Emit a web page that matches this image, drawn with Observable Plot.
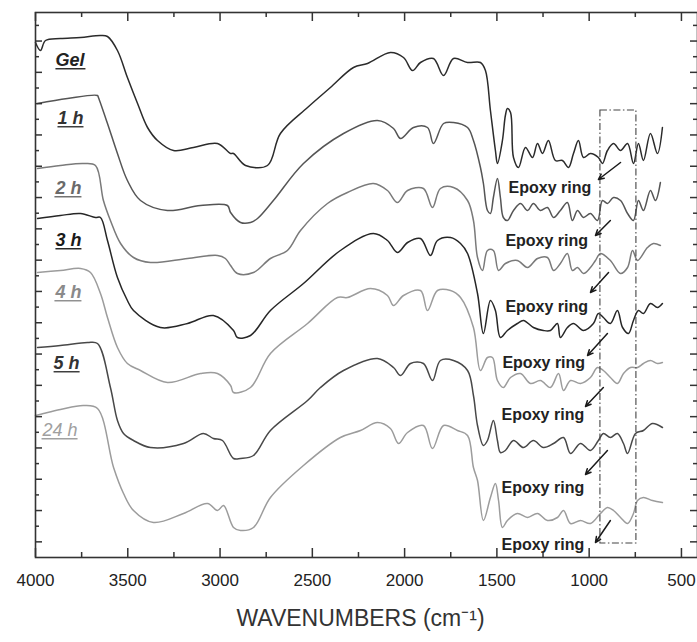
<!DOCTYPE html>
<html><head><meta charset="utf-8">
<script src="https://cdn.jsdelivr.net/npm/d3@7"></script>
<script src="https://cdn.jsdelivr.net/npm/@observablehq/plot@0.6"></script>
<style>
body{margin:0;background:#fff;}
</style></head><body><div id="chart"></div>
<script>
// ---- data: FTIR spectra [wavenumber (cm-1), transmittance (a.u., offset)] ----
const samples = ["Gel", "1 h", "2 h", "3 h", "4 h", "5 h", "24 h"];

const gel = [[4000,51.5],[3973,50.7],[3946,51.7],[3865,51.9],[3756,52.0],[3648,52.2],[3610,52.1],[3556,50.7],[3502,48.0],[3447,45.4],[3393,43.0],[3339,41.7],[3252,40.7],[3144,41.0],[3014,41.4],[2943,40.4],[2927,40.4],[2862,39.2],[2743,39.2],[2673,42.4],[2526,45.0],[2402,47.0],[2277,49.0],[2201,49.4],[2077,50.5],[2006,50.0],[1957,48.7],[1914,49.5],[1844,49.9],[1789,48.2],[1735,49.9],[1659,49.5],[1589,49.5],[1562,48.7],[1535,44.7],[1508,40.7],[1497,39.4],[1470,41.7],[1454,44.2],[1443,44.9],[1426,44.5],[1410,40.0],[1383,39.0],[1345,41.0],[1307,40.0],[1280,41.4],[1253,40.4],[1221,41.7],[1183,39.7],[1145,39.7],[1112,39.0],[1085,40.4],[1058,41.7],[1031,40.0],[993,40.4],[950,40.0],[928,39.4],[901,40.7],[868,41.4],[830,40.7],[792,41.4],[760,39.4],[733,41.4],[706,39.7],[668,42.4],[630,40.4],[603,43.0]];

const h1 = [[3989,45.4],[3827,45.9],[3664,46.2],[3659,46.0],[3610,43.4],[3556,40.4],[3502,37.7],[3431,35.7],[3285,34.7],[3106,35.2],[2960,35.2],[2943,34.5],[2889,33.5],[2835,33.5],[2797,33.9],[2711,35.7],[2548,39.4],[2331,42.4],[2147,43.7],[2060,42.9],[2022,41.9],[1952,43.0],[1876,43.0],[1844,41.4],[1789,43.4],[1735,43.5],[1659,43.0],[1627,41.7],[1589,39.0],[1573,37.4],[1551,34.7],[1535,34.4],[1519,36.0],[1497,37.9],[1481,36.0],[1465,34.0],[1443,33.7],[1410,34.7],[1372,35.4],[1334,34.7],[1302,35.4],[1264,34.7],[1226,35.0],[1193,34.0],[1156,34.7],[1118,35.5],[1091,33.7],[1063,34.7],[1031,34.0],[993,34.4],[955,33.7],[928,35.7],[901,35.4],[868,36.0],[830,35.7],[792,34.4],[760,33.7],[733,35.7],[706,34.7],[668,36.7],[641,35.7],[614,37.5]];

const h2 = [[3989,38.9],[3865,39.2],[3740,39.4],[3675,39.2],[3632,35.7],[3594,33.7],[3539,31.4],[3469,30.0],[3377,29.5],[3176,29.9],[3014,30.2],[2971,29.9],[2943,29.2],[2906,28.4],[2819,28.5],[2727,29.9],[2635,30.7],[2564,32.7],[2418,35.4],[2310,36.5],[2169,37.4],[2093,36.7],[2039,35.5],[1984,36.7],[1898,36.9],[1849,35.0],[1806,36.9],[1735,37.0],[1659,35.7],[1627,33.7],[1605,30.0],[1578,28.7],[1551,30.7],[1519,30.7],[1491,28.7],[1454,29.4],[1389,29.7],[1334,29.0],[1280,29.9],[1226,30.0],[1193,28.7],[1156,29.4],[1118,30.4],[1091,28.7],[1063,29.0],[1031,28.4],[993,29.0],[966,29.7],[939,30.4],[885,29.7],[830,28.4],[792,29.0],[765,30.7],[738,29.7],[684,31.0],[652,31.4],[614,31.2]];

const h3 = [[3989,33.9],[3865,34.2],[3756,34.4],[3675,34.0],[3648,34.0],[3610,31.7],[3556,28.0],[3502,25.7],[3469,24.7],[3323,23.0],[3176,23.4],[3036,24.2],[2927,22.7],[2906,22.0],[2835,22.2],[2727,24.7],[2548,27.4],[2348,30.7],[2169,32.4],[2093,31.7],[2039,30.5],[1984,31.5],[1914,31.9],[1860,30.2],[1822,31.7],[1751,32.0],[1697,31.4],[1659,30.4],[1605,26.4],[1573,22.4],[1535,25.7],[1508,24.7],[1481,22.0],[1443,22.7],[1389,23.4],[1356,23.7],[1302,23.0],[1248,22.7],[1210,22.7],[1172,23.4],[1156,22.0],[1118,23.0],[1085,23.4],[1031,22.7],[977,23.4],[950,24.4],[923,24.0],[885,23.4],[847,24.7],[819,23.0],[787,22.4],[760,23.7],[733,24.7],[706,24.4],[668,25.4],[630,25.0],[603,25.4]];

const h4 = [[3989,28.5],[3865,28.7],[3756,28.9],[3702,28.5],[3648,26.4],[3610,24.0],[3556,21.0],[3502,19.4],[3431,18.7],[3285,17.5],[3106,18.4],[3014,18.4],[2943,17.2],[2927,16.5],[2835,17.0],[2727,20.4],[2526,23.4],[2364,26.0],[2310,26.0],[2185,26.9],[2093,26.2],[2060,25.2],[2006,26.2],[1914,26.7],[1876,24.7],[1822,26.7],[1751,26.7],[1697,26.0],[1627,23.0],[1589,18.7],[1551,20.0],[1524,20.0],[1497,17.7],[1465,17.0],[1426,18.0],[1372,18.4],[1318,17.4],[1264,17.7],[1210,17.0],[1166,18.4],[1139,16.7],[1101,17.7],[1047,17.4],[993,18.0],[955,19.0],[923,18.7],[885,18.0],[847,17.4],[814,18.4],[776,19.0],[738,19.0],[706,19.4],[668,19.7],[630,19.4],[603,19.5]];

const h5 = [[3989,21.0],[3865,21.2],[3718,21.5],[3664,21.4],[3594,17.0],[3556,13.7],[3523,12.4],[3469,11.7],[3377,11.0],[3198,11.4],[3090,12.4],[3036,11.9],[2987,11.7],[2927,9.9],[2889,9.9],[2819,10.2],[2727,12.7],[2526,15.7],[2456,17.0],[2331,18.7],[2147,19.9],[2060,19.0],[2022,18.2],[1968,19.4],[1898,19.4],[1849,17.7],[1806,19.7],[1735,19.7],[1659,18.7],[1627,16.2],[1605,13.2],[1573,11.2],[1551,11.7],[1519,13.7],[1497,11.7],[1481,10.5],[1454,10.7],[1410,11.7],[1356,11.0],[1302,11.7],[1248,11.0],[1193,11.4],[1139,12.0],[1101,10.4],[1047,11.4],[993,10.7],[950,11.7],[923,12.4],[885,12.0],[847,12.4],[814,11.4],[792,10.4],[749,12.4],[706,12.7],[657,13.4],[603,13.0]];

const h24 = [[4000,14.2],[3957,14.4],[3865,14.8],[3740,15.2],[3664,14.9],[3577,9.0],[3523,6.4],[3469,4.7],[3361,3.5],[3198,4.4],[3068,5.4],[3014,4.7],[2981,5.2],[2927,3.0],[2889,2.7],[2819,3.0],[2727,6.0],[2548,9.2],[2348,12.0],[2239,12.7],[2147,13.5],[2077,12.9],[2033,11.4],[1984,12.5],[1898,13.2],[1849,10.9],[1789,13.2],[1714,12.7],[1659,12.2],[1627,9.0],[1605,7.7],[1573,3.7],[1535,6.0],[1508,7.4],[1491,5.7],[1470,3.0],[1443,3.7],[1389,4.4],[1334,4.0],[1280,4.4],[1226,3.7],[1172,4.0],[1139,4.7],[1101,3.4],[1047,3.7],[993,3.4],[939,4.4],[901,5.0],[868,4.7],[830,4.0],[792,3.4],[760,4.4],[738,5.7],[706,6.0],[657,5.7],[603,5.5]];

const spectra = [gel, h1, h2, h3, h4, h5, h24];

// x-axis tick values and labels
const xMajorTicks = [4000, 3500, 3000, 2500, 2000, 1500, 1000, 500];
const xMinorTicks = [3750, 3250, 2750, 2250, 1750, 1250, 750];
const xTitle = "WAVENUMBERS (cm\u207B\u00B9)";

// sample labels (anchored at wavenumber / offset value)
const labelW = [3892, 3881, 3892, 3892, 3892, 3902, 3962];
const labelV = [49.7, 43.9, 36.9, 31.7, 26.5, 19.4, 12.7];

// "Epoxy ring" annotations
const epoxyText = "Epoxy ring";
const epoxyW = [1437, 1454, 1454, 1470, 1475, 1475, 1475];
const epoxyV = [37.0, 31.7, 25.1, 19.5, 14.3, 7.0, 1.3];
const arrowFromW = [830, 885, 895, 901, 923, 901, 885];
const arrowFromV = [39.5, 33.7, 28.5, 22.4, 17.0, 10.7, 3.7];
const arrowToW = [950, 966, 993, 1009, 1020, 1020, 966];
const arrowToV = [37.8, 32.2, 26.5, 20.2, 15.1, 8.3, 1.5];

// epoxy band box (cm-1 range, value range)
const boxW = [939, 744];
const boxV = [1.4, 44.7];

// ---- build tables ----
const rows = spectra.flatMap((s, i) => s.map(([w, v]) => ({sample: samples[i], w, v})));
const labels = samples.map((s, i) => ({s, w: labelW[i], v: labelV[i]}));
const epoxy = epoxyW.map((w, i) => ({w, v: epoxyV[i]}));
const arrows = arrowFromW.map((w, i) => ({x1: w, y1: arrowFromV[i], x2: arrowToW[i], y2: arrowToV[i]}));

const lineColors = ["#2b2b2b", "#555", "#7a7a7a", "#262626", "#9c9c9c", "#484848", "#9c9c9c"];
const labelColors = ["#222", "#333", "#6a6a6a", "#1a1a1a", "#8a8a8a", "#333", "#a0a0a0"];

const W = 697, H = 642, mL = 35, mR = 0, mT = 12, mB = 85;
const fw = W - mL - mR, fh = H - mT - mB;
const yStep = 1.565;
const yTicks = d3.range(1, 35).map(k => ({k, y: k * yStep}));
const yLong = yTicks.filter(d => d.k % 2 === 1).map(d => d.y);
const yShort = yTicks.filter(d => d.k % 2 === 0).map(d => d.y);

const frameColor = "#333";

const chart = Plot.plot({
  width: W, height: H,
  marginLeft: mL, marginRight: mR, marginTop: mT, marginBottom: mB,
  style: {fontFamily: "'Liberation Sans', Arial, Helvetica, sans-serif", background: "#fff"},
  x: {domain: [4000, 413], axis: null},
  y: {domain: [0, 54.5], axis: null},
  color: {domain: samples, range: lineColors},
  marks: [
    Plot.line(rows, {x: "w", y: "v", z: "sample", stroke: "sample", strokeWidth: 1.5, curve: "catmull-rom"}),
    Plot.rect([0], {x1: () => boxW[0], x2: () => boxW[1], y1: () => boxV[0], y2: () => boxV[1],
      fill: "none", stroke: "#444", strokeWidth: 1.1, strokeDasharray: "7,2.5,1.5,2.5"}),
    Plot.arrow(arrows, {x1: "x1", y1: "y1", x2: "x2", y2: "y2", stroke: "#1a1a1a", strokeWidth: 1.5, headLength: 6, headAngle: 50}),
    Plot.text(epoxy, {x: "w", y: "v", text: () => epoxyText, textAnchor: "start", fontWeight: "bold", fontSize: 16, fill: "#222"}),
    Plot.text(labels.filter(d => d.s !== "24 h"), {x: "w", y: "v", text: "s", textAnchor: "start", fontWeight: "bold", fontStyle: "italic", fontSize: 18,
      fill: d => labelColors[samples.indexOf(d.s)]}),
    Plot.text(labels.filter(d => d.s === "24 h"), {x: "w", y: "v", text: "s", textAnchor: "start", fontWeight: "normal", fontStyle: "italic", fontSize: 18,
      fill: labelColors[6]}),
    // frame and inward ticks
    Plot.frame({stroke: frameColor, strokeWidth: 1.6}),
    Plot.tickX(xMajorTicks, {x: d => d, insetTop: fh - 9, stroke: frameColor, strokeWidth: 1.5}),
    Plot.tickX(xMinorTicks, {x: d => d, insetTop: fh - 5, stroke: frameColor, strokeWidth: 1.5}),
    Plot.tickX(xMajorTicks, {x: d => d, insetBottom: fh - 9, stroke: frameColor, strokeWidth: 1.5}),
    Plot.tickX(xMinorTicks, {x: d => d, insetBottom: fh - 5, stroke: frameColor, strokeWidth: 1.5}),
    Plot.tickY(yLong, {y: d => d, insetRight: fw - 7, stroke: frameColor, strokeWidth: 1.5}),
    Plot.tickY(yShort, {y: d => d, insetRight: fw - 4, stroke: frameColor, strokeWidth: 1.5}),
    Plot.tickY(yLong, {y: d => d, insetLeft: fw - 7, stroke: frameColor, strokeWidth: 1.5}),
    Plot.tickY(yShort, {y: d => d, insetLeft: fw - 4, stroke: frameColor, strokeWidth: 1.5}),
    Plot.axisX(xMajorTicks, {anchor: "bottom", tickSize: 0, tickPadding: 16, fontSize: 17, fill: "#222", label: null, tickFormat: d => String(d)}),
    Plot.text([xTitle], {text: d => d, frameAnchor: "bottom", dy: 68, dx: -6, fontSize: 23, fill: "#333"})
  ]
});
document.getElementById("chart").appendChild(chart);

// underline the sample labels
d3.select(chart).selectAll("text")
  .filter(function() { return samples.includes(this.textContent); })
  .each(function() {
    const b = this.getBBox();
    const fill = this.getAttribute("fill") || this.parentNode.getAttribute("fill") || "#222";
    const line = document.createElementNS("http://www.w3.org/2000/svg", "line");
    line.setAttribute("x1", b.x);
    line.setAttribute("x2", b.x + b.width);
    line.setAttribute("y1", b.y + b.height - 1.5);
    line.setAttribute("y2", b.y + b.height - 1.5);
    line.setAttribute("stroke", fill);
    line.setAttribute("stroke-width", 1.4);
    const t = this.getAttribute("transform");
    if (t) line.setAttribute("transform", t);
    this.parentNode.appendChild(line);
  });
</script></body></html>
